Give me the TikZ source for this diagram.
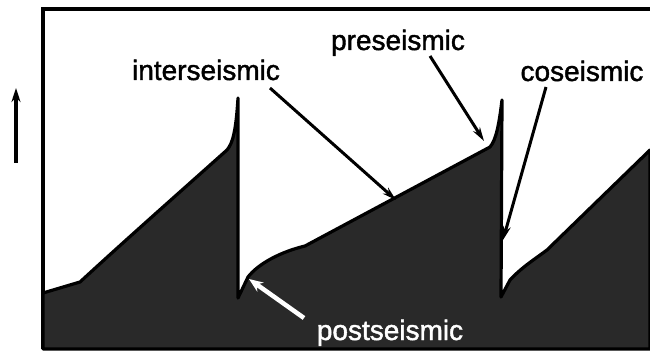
\documentclass[tikz,border=0pt]{standalone}
\usepackage{fontspec}
\setmainfont[FakeBold=1.5]{Liberation Sans}
\usetikzlibrary{arrows.meta}
\begin{document}
\begin{tikzpicture}[x=1pt,y=-1pt,
  lbl/.style={font=\fontsize{28}{34}\selectfont, anchor=base, inner sep=0pt},
  arr/.style={line width=3pt, -{Stealth[length=14pt,width=8pt]}},
  curve/.style={line width=3.2pt, line join=round, fill=black!84}]
\useasboundingbox (0,0) rectangle (650,352);
% frame
\draw[line width=3.2pt] (650,9) -- (43,9) -- (43,349);
% sawtooth curve
\draw[curve] (43,293) -- (80,282) .. controls (130,236) and (180,192) .. (227,150)
  .. controls (233,143) and (236,130) .. (238,98) -- (238,298) -- (248,277)
  .. controls (258,264) and (280,252) .. (305,246) -- (490,147)
  .. controls (496,140) and (499,125) .. (502,100) -- (501,297) -- (510,280)
  .. controls (522,267) and (535,259) .. (547,250) -- (650,150)
  -- (650,349) -- (43,349) -- cycle;
% left arrow
\coordinate (la) at (16,163);
\coordinate (lb) at (16,88);
\draw[line width=3.2pt, -{Stealth[length=14pt,width=9pt]}] (la) -- (lb);
% labels
\node[lbl] (inter) at (206,80) {interseismic};
\node[lbl] (pre) at (398,50) {preseismic};
\node[lbl] (co) at (582,81) {coseismic};
\node[lbl, text=white] (post) at (390,340) {postseismic};
% arrow ends
\coordinate (interS) at (270,88);
\coordinate (interT) at (396,200);
\coordinate (preS) at (430,56);
\coordinate (preT) at (484,141);
\coordinate (coS) at (546,87);
\coordinate (coT) at (503,240);
\coordinate (postS) at (304,318);
\coordinate (postT) at (249,279);
\draw[arr] (interS) -- (interT);
\draw[arr] (preS) -- (preT);
\draw[arr] (coS) -- (coT);
\draw[line width=4.5pt, white, -{Stealth[length=14pt,width=11pt]}] (postS) -- (postT);
\end{tikzpicture}
\end{document}
